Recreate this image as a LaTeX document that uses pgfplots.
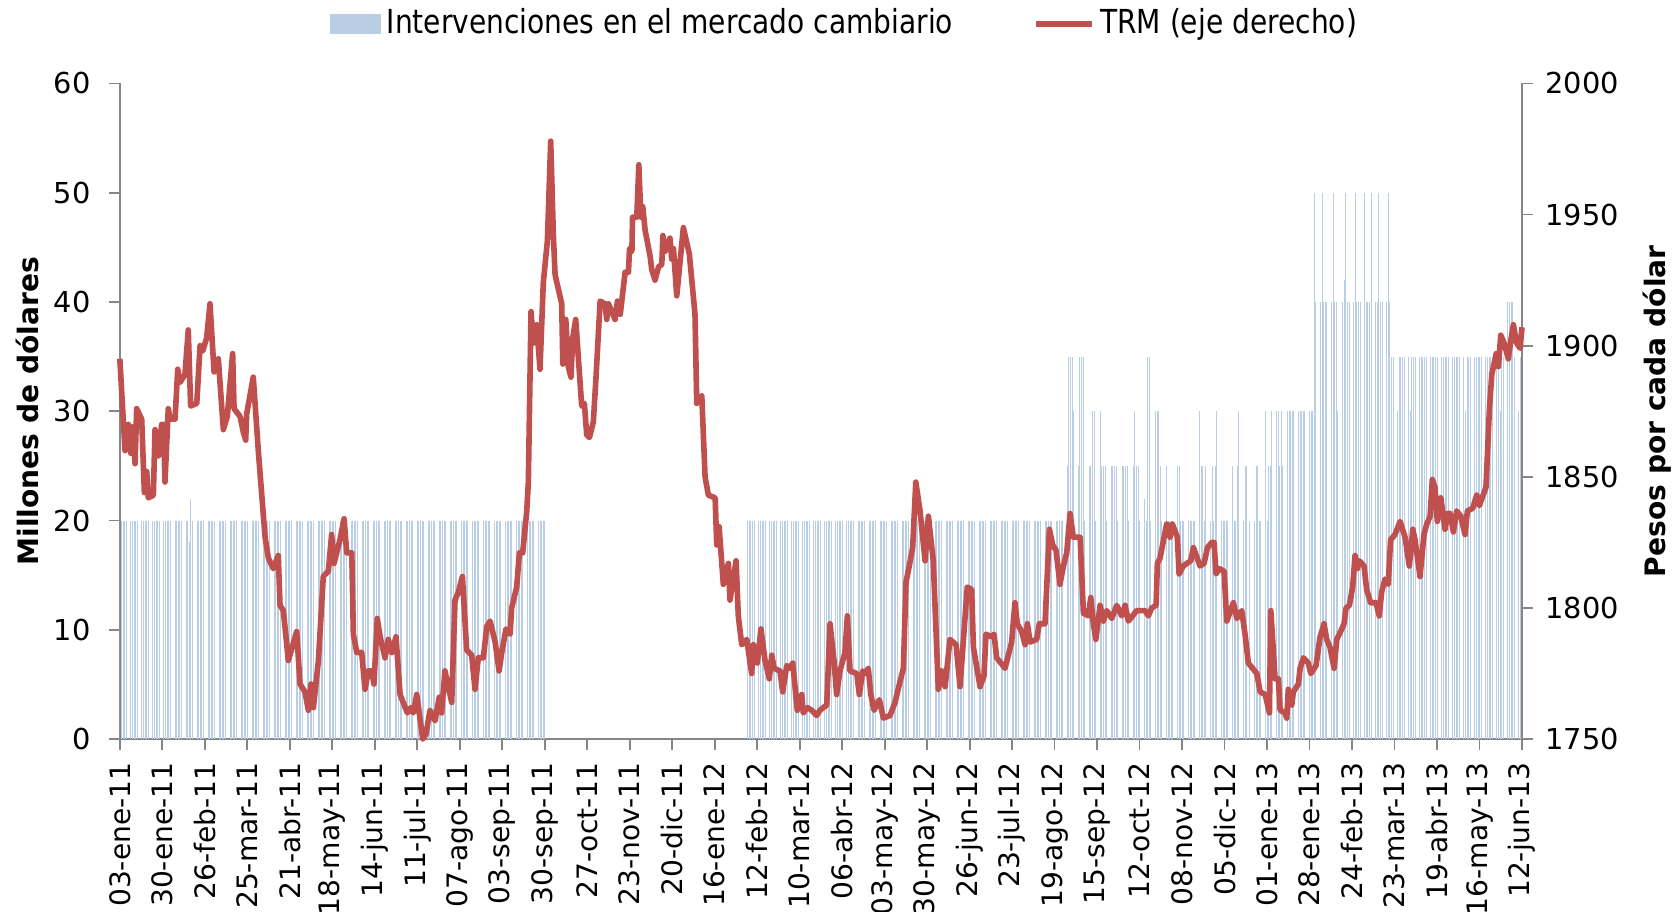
\documentclass[border=0pt]{standalone}
\usepackage{fontspec}
\setmainfont{DejaVu Sans}
\newfontfamily\legfont{DejaVu Sans}[FakeStretch=0.85]
\usepackage{pgfplots}
\pgfplotsset{compat=1.18}

\definecolor{barblue}{RGB}{185,205,229}
\definecolor{trmred}{RGB}{192,80,77}
\definecolor{axisgray}{RGB}{134,134,134}

\begin{document}
\begin{tikzpicture}
% left axis: daily interventions (x = days since 03-ene-11)
\begin{axis}[
    scale only axis,
    width=14.02cm, height=6.556cm,
    xmin=0, xmax=891,
    ymin=0, ymax=60,
    axis x line*=bottom,
    axis y line*=left,
    axis line style={draw=axisgray, line width=0.5pt},
    tick style={draw=axisgray, line width=0.5pt},
    tick align=outside,
    major tick length=0.11cm,
    xtick={0,27,...,891},
    xticklabels={03-ene-11,30-ene-11,26-feb-11,25-mar-11,21-abr-11,18-may-11,
        14-jun-11,11-jul-11,07-ago-11,03-sep-11,30-sep-11,27-oct-11,23-nov-11,
        20-dic-11,16-ene-12,12-feb-12,10-mar-12,06-abr-12,03-may-12,30-may-12,
        26-jun-12,23-jul-12,19-ago-12,15-sep-12,12-oct-12,08-nov-12,05-dic-12,
        01-ene-13,28-ene-13,24-feb-13,23-mar-13,19-abr-13,16-may-13,12-jun-13},
    xticklabel style={rotate=90, anchor=east, font=\fontsize{8}{9}\selectfont},
    ytick={0,10,...,60},
    yticklabel style={font=\fontsize{8.2}{9}\selectfont, xshift=-0.06cm},
    /pgf/number format/assume math mode=true,
    ylabel={Millones de dólares},
    ylabel style={font=\fontsize{8}{9}\selectfont\bfseries, yshift=-0.09cm},
]
\addplot[ycomb, draw=barblue, line width=0.22pt, mark=none] coordinates {
(0,20)(1,20)(2,20)(3,20)(4,20)(7,20)(8,20)(9,20)(10,20)(11,20)
(14,20)(15,20)(16,20)(17,20)(18,20)(21,20)(22,20)(23,20)(24,20)(25,20)
(28,20)(29,20)(30,20)(31,20)(32,20)(35,20)(36,20)(37,20)(38,20)(39,20)
(42,20)(43,20)(44,18)(45,22)(46,20)(49,20)(50,20)(51,20)(52,20)(53,20)
(56,20)(57,20)(58,20)(59,20)(60,20)(63,20)(64,20)(65,20)(66,20)(67,20)
(70,20)(71,20)(72,20)(73,20)(74,20)(77,20)(78,20)(79,20)(80,20)(81,20)
(84,20)(85,20)(86,20)(87,20)(88,20)(91,20)(92,20)(93,20)(94,20)(95,20)
(98,20)(99,20)(100,20)(101,20)(102,20)(105,20)(106,20)(107,20)(108,20)(109,20)
(112,20)(113,20)(114,20)(115,20)(116,20)(119,20)(120,20)(121,20)(122,20)(123,20)
(126,20)(127,20)(128,20)(129,20)(130,20)(133,20)(134,20)(135,20)(136,20)(137,20)
(140,20)(141,20)(142,20)(143,20)(144,20)(147,20)(148,20)(149,20)(150,20)(151,20)
(154,20)(155,20)(156,20)(157,20)(158,20)(161,20)(162,20)(163,20)(164,20)(165,20)
(168,20)(169,20)(170,20)(171,20)(172,20)(175,20)(176,20)(177,20)(178,20)(179,20)
(182,20)(183,20)(184,20)(185,20)(186,20)(189,20)(190,20)(191,20)(192,20)(193,20)
(196,20)(197,20)(198,20)(199,20)(200,20)(203,20)(204,20)(205,20)(206,20)(207,20)
(210,20)(211,20)(212,20)(213,20)(214,20)(217,20)(218,20)(219,20)(220,20)(221,20)
(224,20)(225,20)(226,20)(227,20)(228,20)(231,20)(232,20)(233,20)(234,20)(235,20)
(238,20)(239,20)(240,20)(241,20)(242,20)(245,20)(246,20)(247,20)(248,20)(249,20)
(252,20)(253,20)(254,20)(255,20)(256,20)(259,20)(260,20)(261,20)(262,20)(263,20)
(266,20)(267,20)(268,20)(269,20)(270,20)
(399,20)(400,20)(401,20)(402,20)(403,20)(406,20)(407,20)(408,20)(409,20)(410,20)
(413,20)(414,20)(415,20)(416,20)(417,20)(420,20)(421,20)(422,20)(423,20)(424,20)
(427,20)(428,20)(429,20)(430,20)(431,20)(434,20)(435,20)(436,20)(437,20)(438,20)
(441,20)(442,20)(443,20)(444,20)(445,20)(448,20)(449,20)(450,20)(451,20)(452,20)
(455,20)(456,20)(457,20)(458,20)(459,20)(462,20)(463,20)(464,20)(465,20)(466,20)
(469,20)(470,20)(471,20)(472,20)(473,20)(476,20)(477,20)(478,20)(479,20)(480,20)
(483,20)(484,20)(485,20)(486,20)(487,20)(490,20)(491,20)(492,20)(493,20)(494,20)
(497,20)(498,20)(499,20)(500,20)(501,20)(504,20)(505,20)(506,20)(507,20)(508,20)
(511,20)(512,20)(513,20)(514,20)(515,20)(518,20)(519,20)(520,20)(521,20)(522,20)
(525,20)(526,20)(527,20)(528,20)(529,20)(532,20)(533,20)(534,20)(535,20)(536,20)
(539,20)(540,20)(541,20)(542,20)(543,20)(546,20)(547,20)(548,20)(549,20)(550,20)
(553,20)(554,20)(555,20)(556,20)(557,20)(560,20)(561,20)(562,20)(563,20)(564,20)
(567,20)(568,20)(569,20)(570,20)(571,20)(574,20)(575,20)(576,20)(577,20)(578,20)
(581,20)(582,20)(583,20)(584,20)(585,20)(588,20)(589,20)(590,20)(591,20)(592,20)
(595,20)(596,20)(597,20)(598,20)(599,20)
(602,25)(603,35)(604,35)(605,35)(606,30)(609,25)(610,35)(611,35)(612,35)(613,20)
(616,25)(617,25)(618,30)(619,30)(620,20)(623,30)(624,25)(625,25)(626,25)(627,20)
(630,25)(631,25)(632,25)(633,25)(634,20)(637,25)(638,25)(639,25)(640,25)(641,20)
(644,25)(645,30)(646,25)(647,25)(648,20)(651,22)(652,20)(653,35)(654,35)(655,20)
(658,30)(659,30)(660,30)(661,25)(662,20)(665,25)(666,20)(667,20)(668,20)(669,20)
(672,25)(673,25)(674,20)(675,20)(676,20)(679,20)(680,20)(681,20)(682,20)(683,20)
(686,30)(687,25)(688,25)(689,20)(690,25)(693,20)(694,25)(695,20)(696,25)(697,30)
(700,20)(701,20)(702,20)(703,20)(704,20)(707,25)(708,20)(709,20)(710,25)(711,30)
(714,20)(715,25)(716,25)(718,20)(721,20)(722,25)(723,25)(724,20)(725,20)
(728,30)(729,20)(730,25)(731,25)(732,30)(735,30)(736,30)(737,25)(738,30)(739,25)
(742,30)(743,30)(744,30)(745,30)(746,30)(749,30)(750,30)(751,30)(752,30)(753,30)
(756,30)(757,30)(758,30)(759,50)(760,40)(763,40)(764,50)(765,40)(766,40)(767,40)
(770,40)(771,50)(772,40)(773,40)(774,30)(777,40)(778,42)(779,50)(780,40)(781,40)
(784,40)(785,50)(786,40)(787,40)(788,40)(791,50)(792,40)(793,40)(794,40)(795,50)
(798,40)(799,40)(800,50)(801,40)(802,40)(805,40)(806,50)(807,40)(808,35)(809,35)
(812,30)(813,35)(814,35)(815,35)(816,35)(819,35)(820,30)(821,35)(822,35)(823,35)
(826,35)(827,35)(828,35)(829,35)(830,35)(833,35)(834,35)(835,35)(836,35)(837,35)
(840,35)(841,35)(842,35)(843,35)(844,35)(847,35)(848,35)(849,35)(850,35)(851,35)
(854,35)(855,30)(856,35)(857,35)(858,35)(861,35)(862,35)(863,35)(864,35)(865,35)
(868,35)(869,35)(870,35)(871,35)(872,35)(875,35)(876,35)(877,30)(878,35)(879,35)
(882,40)(883,40)(884,40)(885,40)(886,35)(889,30)(890,35)(891,30)
};
\end{axis}

% right axis: TRM
\begin{axis}[
    scale only axis,
    width=14.02cm, height=6.556cm,
    xmin=0, xmax=891,
    ymin=1750, ymax=2000,
    axis x line=none,
    axis y line*=right,
    axis line style={draw=axisgray, line width=0.5pt},
    tick style={draw=axisgray, line width=0.5pt},
    tick align=outside,
    major tick length=0.11cm,
    ytick={1750,1800,...,2000},
    yticklabel style={font=\fontsize{8.2}{9}\selectfont},
    /pgf/number format/assume math mode=true,
    /pgf/number format/set thousands separator={},
    ylabel={Pesos por cada dólar},
    ylabel style={font=\fontsize{8}{9}\selectfont\bfseries},
    clip=false,
    legend columns=2,
    legend style={at={(0.518,1.091)}, anchor=center, draw=none, fill=none,
        font=\legfont\fontsize{9.4}{10}\selectfont,
        /tikz/every even column/.append style={column sep=0.75cm},
        nodes={inner xsep=1.5pt, inner ysep=1pt}},
]
\addlegendimage{legend image code/.code={\fill[barblue] (0cm,-0.095cm) rectangle (0.5cm,0.095cm);}}
\addlegendentry{Intervenciones en el mercado cambiario}
\addplot[trmred, line width=1.6pt, mark=none, line join=round,
    legend image code/.code={\draw[trmred, line width=1.6pt] (0cm,0cm) -- (0.56cm,0cm);}] coordinates {
(0,1895)(3.3,1860)(5.4,1870)(6.9,1859)(8,1869)(9.7,1855)(10.7,1876)(13.9,1872)
(15.6,1844)(17.1,1852)(18.1,1842)(21.3,1843)(22.4,1868)(24.5,1858)(26.6,1870)
(27.7,1870)(28.7,1848)(30.8,1876)(31.9,1872)(35.1,1872)(36.8,1891)(38.3,1886)
(41.4,1889)(43.5,1906)(45,1877)(48.9,1878)(51,1900)(52.7,1898)(55.2,1903)
(57.3,1916)(59.9,1890)(62.6,1895)(65.8,1868)(68.3,1873)(71.7,1897)(72.6,1876)
(76.4,1873)(78.5,1867)(80,1864)(80.6,1874)(84.8,1888)(88,1860)(92.3,1827)
(94.4,1819)(97.5,1815)(100.7,1820)(101.8,1801)(103.9,1799)(107.1,1780)(112.4,1791)
(114.5,1771)(117.7,1768)(119.8,1761)(121.5,1771)(123,1762)(126.2,1780)(129.3,1812)
(132.5,1814)(134.6,1828)(136.1,1817)(139.9,1826)(142.5,1834)(144.2,1821)(147.4,1821)
(148.4,1790)(150.6,1783)(153.7,1783)(155.8,1769)(157.9,1776)(160.1,1776)(161.5,1771)
(163.6,1796)(165.4,1789)(168.5,1781)(170.6,1788)(172.8,1783)(175.5,1789)(178.1,1767)
(182.7,1760)(184.9,1762)(186.5,1760)(188.7,1767)(192.5,1750)(194.6,1752)(197.1,1761)
(200.3,1757)(203,1766)(204.5,1760)(206.6,1776)(208.7,1770)(210.9,1764)(213,1803)
(215.1,1806)(217.7,1812)(220.4,1784)(223.6,1782)(225.7,1769)(227.8,1781)(231,1781)
(233.2,1793)(235.3,1795)(238.5,1787)(241,1776)(242.7,1783)(245.4,1792)(248,1790)
(249,1800)(252.2,1808)(253.9,1821)(256,1821)(258.6,1837)(259.6,1848)(261.3,1913)
(262.8,1901)(264.9,1908)(267,1891)(269.1,1924)(271.7,1940)(273.8,1978)(275.5,1942)
(276.6,1927)(280.8,1916)(281.5,1893)(283.4,1910)(285,1892)(286.7,1888)(287.8,1903)
(289.7,1910)(293.5,1877)(295.2,1878)(296.7,1866)(298.4,1865)(300.9,1871)(302.6,1888)
(305.2,1917)(308.3,1916)(309.4,1910)(310.5,1916)(314.7,1910)(316.2,1917)(318,1912)
(321.1,1928)(323.2,1928)(323.9,1937)(325.4,1936)(325.8,1949)(328.5,1949)(329.8,1969)
(331.1,1949)(332.3,1953)(333.8,1944)(337,1934)(338,1929)(340.1,1925)(342.3,1930)
(344.4,1931)(345.1,1942)(346.5,1936)(349.6,1941)(350.7,1933)(351.8,1937)(353.9,1919)
(358.1,1945)(361.9,1935)(365.5,1912)(366.6,1878)(369.8,1881)(371.9,1850)(374,1843)
(378.3,1842)(379.3,1824)(380.8,1831)(383.5,1809)(386.7,1817)(387.7,1803)(391.6,1818)
(393,1797)(395.2,1786)(398.4,1788)(401.5,1775)(402.6,1786)(405.1,1779)(407.4,1792)
(410,1780)(412.7,1773)(414.3,1782)(415.7,1777)(419.5,1776)(421.2,1768)(423.8,1778)
(425.9,1777)(427.6,1779)(430.5,1761)(433.3,1767)(434.3,1760)(436.9,1762)(439.7,1761)
(442.8,1759)(444.9,1761)(449.2,1763)(451.3,1794)(453.8,1780)(455.5,1767)(457.6,1776)
(460.8,1783)(462.3,1797)(464,1776)(468.3,1775)(469.9,1767)(472.1,1776)(473.5,1775)
(475.6,1777)(477.2,1767)(479.3,1761)(482.6,1765)(485.2,1758)(489.4,1759)(492.6,1764)
(495.8,1772)(497.9,1777)(499.6,1810)(501,1814)(503.8,1823)(505.8,1848)(508.5,1837)
(511.7,1818)(513.8,1835)(516.9,1818)(520.1,1769)(522.3,1776)(524.4,1770)(527.5,1788)
(531.4,1786)(533.9,1770)(538.5,1808)(541.3,1807)(542.4,1785)(546.6,1770)(549.1,1774)
(550.4,1790)(554,1789)(555.5,1790)(557.2,1781)(562.5,1777)(566.7,1787)(568.8,1802)
(570.3,1794)(573.1,1791)(575.2,1786)(576.7,1794)(578.4,1787)(582.6,1788)(584.3,1794)
(587.9,1794)(590.7,1830)(592.8,1824)(594.9,1822)(597.4,1809)(599.6,1816)(601.7,1821)
(603.8,1836)(605.9,1827)(610.2,1827)(612.3,1798)(615.4,1797)(617,1804)(618.6,1794)
(620.2,1788)(622.9,1801)(625,1795)(627.1,1799)(630.3,1796)(633.5,1801)(636.6,1797)
(638.8,1801)(640.9,1795)(646.2,1799)(651.5,1799)(653.6,1797)(655.7,1800)(658.5,1801)
(659.3,1817)(661,1819)(665.2,1832)(667.3,1827)(668.8,1832)(672,1827)(673.1,1813)
(675.8,1816)(680.5,1818)(682.2,1823)(686.4,1816)(689,1817)(691.1,1823)(693.8,1825)
(695.3,1825)(696.6,1813)(698.7,1815)(701.7,1814)(703.4,1795)(707.6,1802)(709.8,1796)
(712.9,1799)(715,1790)(717.1,1779)(722.5,1775)(724.6,1768)(727.8,1767)(730.5,1760)
(731.4,1799)(734.1,1773)(736.2,1773)(737.3,1761)(740.5,1760)(741.5,1758)(742.5,1769)
(744.7,1763)(745.7,1768)(748.9,1771)(750,1777)(752.1,1781)(755.2,1779)(756.8,1775)
(760.1,1778)(762.7,1789)(765.2,1794)(766.9,1788)(769,1785)(771.6,1777)(773.3,1788)
(776.5,1792)(777.9,1794)(779.2,1800)(781.3,1801)(783.4,1808)(784.9,1820)(786.4,1815)
(787.6,1818)(790.6,1816)(792.3,1807)(794.8,1802)(798.2,1802)(800.3,1797)(801.8,1806)
(803.9,1811)(806,1809)(807.5,1826)(810.3,1828)(813.5,1833)(816.7,1827)(819.4,1816)
(821.6,1830)(823,1826)(826.2,1812)(828.7,1828)(830.5,1832)(832.6,1835)(834,1849)
(835.7,1846)(837.2,1833)(839.4,1842)(842.1,1830)(843.6,1836)(845.3,1836)(847.4,1829)
(849.5,1837)(852.1,1835)(854.8,1828)(856.3,1837)(859.7,1838)(862.2,1843)(863.9,1839)
(868.1,1846)(870.3,1876)(871.8,1889)(874.6,1897)(876,1892)(877.5,1904)(879.6,1901)
(882.3,1895)(883.9,1902)(885.5,1908)(887.6,1901)(889.8,1899)(891,1907)
};
\addlegendentry{TRM (eje derecho)}
\end{axis}
\pgfresetboundingbox
\path (-1.198cm,-1.72cm) rectangle (15.57cm,7.39cm);
\end{tikzpicture}
\end{document}
